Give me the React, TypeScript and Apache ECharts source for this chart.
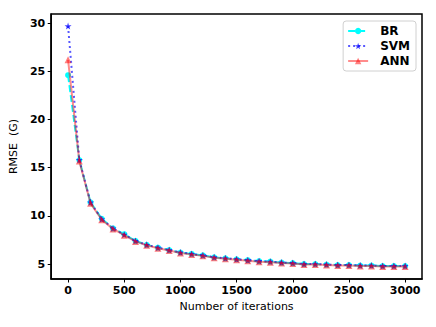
import React, { useEffect, useRef } from "react";
import * as echarts from "echarts";

const iterations = [0, 100, 200, 300, 400, 500, 600, 700, 800, 900, 1000, 1100, 1200, 1300, 1400, 1500, 1600, 1700, 1800, 1900, 2000, 2100, 2200, 2300, 2400, 2500, 2600, 2700, 2800, 2900, 3000];
const brValues = [24.6, 15.8, 11.4, 9.7, 8.7, 8.1, 7.4, 7.0, 6.7, 6.45, 6.2, 6.05, 5.9, 5.7, 5.6, 5.5, 5.4, 5.3, 5.25, 5.15, 5.1, 5.0, 5.0, 4.95, 4.9, 4.9, 4.85, 4.85, 4.8, 4.8, 4.8];
const svmValues = [29.7, 15.8, 11.4, 9.65, 8.7, 8.05, 7.4, 7.0, 6.7, 6.45, 6.2, 6.05, 5.9, 5.7, 5.6, 5.5, 5.4, 5.3, 5.25, 5.15, 5.1, 5.0, 5.0, 4.95, 4.9, 4.9, 4.85, 4.85, 4.8, 4.8, 4.8];
const annValues = [26.2, 15.7, 11.3, 9.6, 8.65, 8.0, 7.35, 6.95, 6.65, 6.4, 6.15, 6.0, 5.85, 5.65, 5.55, 5.45, 5.35, 5.25, 5.2, 5.1, 5.05, 4.95, 4.95, 4.9, 4.85, 4.85, 4.8, 4.8, 4.75, 4.75, 4.75];
const xTicks = [0, 500, 1000, 1500, 2000, 2500, 3000];
const yTicks = [5, 10, 15, 20, 25, 30];

const FONT = "DejaVu Sans";

export default function App() {
  const ref = useRef<HTMLDivElement>(null);
  useEffect(() => {
    if (!ref.current) return;
    const chart = echarts.init(ref.current, null, { renderer: "svg" });
    const pair = (vals: number[]) => iterations.map((x, i) => [x, vals[i]]);
    chart.setOption({
      animation: false,
      backgroundColor: "#fff",
      grid: {
        left: 51,
        right: 14,
        top: 14,
        bottom: 48,
        show: true,
        borderColor: "#000",
        borderWidth: 1.5,
        backgroundColor: "transparent",
      },
      legend: {
        right: 20,
        top: 21,
        orient: "vertical",
        itemWidth: 20,
        itemHeight: 8,
        itemGap: 3,
        padding: [4, 6, 4, 4],
        backgroundColor: "#fff",
        borderColor: "#d0d0d0",
        borderWidth: 1,
        borderRadius: 3,
        textStyle: {
          fontFamily: FONT,
          fontWeight: "bold",
          fontSize: 12,
          color: "#000",
          padding: [0, 0, 0, 7],
        },
        data: ["BR", "SVM", "ANN"],
      },
      xAxis: {
        type: "value",
        min: -150,
        max: 3150,
        name: "Number of iterations",
        nameLocation: "middle",
        nameGap: 21,
        nameTextStyle: { fontFamily: FONT, fontSize: 11, color: "#000" },
        axisLine: { show: true, onZero: false, lineStyle: { color: "#000", width: 1.5 } },
        axisTick: { show: true, inside: false, length: 3.5, lineStyle: { color: "#000" }, customValues: xTicks },
        axisLabel: {
          customValues: xTicks,
          formatter: (v: number) => String(v),
          margin: 6,
          fontFamily: FONT,
          fontWeight: "bold",
          fontSize: 11,
          color: "#000",
        },
        splitLine: { show: false },
      },
      yAxis: {
        type: "value",
        min: 3.45,
        max: 30.95,
        name: "RMSE  (G)",
        nameLocation: "middle",
        nameGap: 21,
        nameTextStyle: { fontFamily: FONT, fontSize: 11, color: "#000" },
        axisLine: { show: true, onZero: false, lineStyle: { color: "#000", width: 1.5 } },
        axisTick: { show: true, inside: false, length: 3.5, lineStyle: { color: "#000" }, customValues: yTicks },
        axisLabel: {
          customValues: yTicks,
          formatter: (v: number) => String(v),
          margin: 6,
          fontFamily: FONT,
          fontWeight: "bold",
          fontSize: 11,
          color: "#000",
        },
        splitLine: { show: false },
      },
      series: [
        {
          name: "BR",
          type: "line",
          data: pair(brValues),
          symbol: "circle",
          symbolSize: 6,
          itemStyle: { color: "#00FFFF" },
          lineStyle: { color: "#00FFFF", width: 2, type: [7, 3] },
          z: 2,
        },
        {
          name: "SVM",
          type: "line",
          data: pair(svmValues),
          symbol: "path://M0,-10 L2.35,-3.24 L9.51,-3.09 L3.8,1.24 L5.88,8.09 L0,4 L-5.88,8.09 L-3.8,1.24 L-9.51,-3.09 L-2.35,-3.24 Z",
          symbolSize: 7,
          itemStyle: { color: "rgba(0,0,255,0.75)" },
          lineStyle: { color: "rgba(0,0,255,0.65)", width: 2, type: [2, 3] },
          z: 3,
        },
        {
          name: "ANN",
          type: "line",
          data: pair(annValues),
          symbol: "triangle",
          symbolSize: 7,
          itemStyle: { color: "rgba(255,0,0,0.5)" },
          lineStyle: { color: "rgba(255,0,0,0.45)", width: 2 },
          z: 4,
        },
      ],
    });
    return () => chart.dispose();
  }, []);
  return <div ref={ref} style={{ width: 436, height: 327, position: "absolute", left: 0, top: 0 }} />;
}
